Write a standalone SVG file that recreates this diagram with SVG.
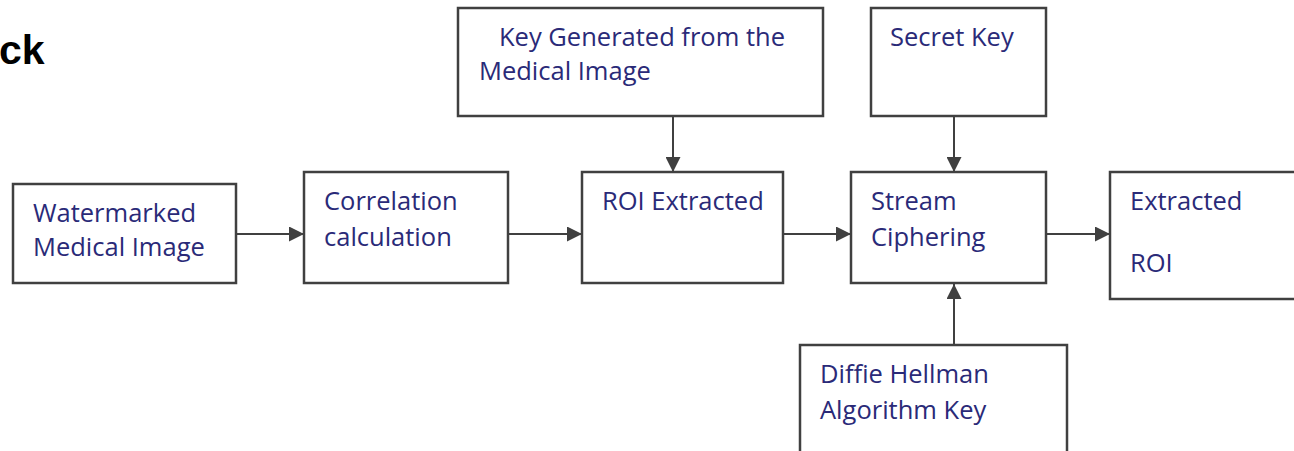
<svg xmlns="http://www.w3.org/2000/svg" width="1294" height="451" viewBox="0 0 1294 451">
<style>
.box{fill:#fff;stroke:#404040;stroke-width:2.5}
.t{font-family:"Open Sans","Noto Sans",sans-serif;font-size:25.5px;fill:#2a2a78}
.c{stroke:#404040;stroke-width:2;fill:none;marker-end:url(#ah)}
.title{font-family:"Liberation Sans",Arial,sans-serif;font-weight:bold;font-size:41px;fill:#000}
</style>
<defs>
<marker id="ah" viewBox="0 0 10 10" refX="10" refY="5" markerUnits="userSpaceOnUse" markerWidth="15" markerHeight="15" orient="auto">
<path d="M0,0 L10,5 L0,10 z" fill="#404040"/>
</marker>
</defs>
<rect width="1294" height="451" fill="#fff"/>
<text class="title" x="-1" y="64">ck</text>
<g id="connectors">
<line class="c" x1="237" y1="234" x2="304" y2="234"/>
<line class="c" x1="509" y1="234" x2="582" y2="234"/>
<line class="c" x1="784" y1="234" x2="851" y2="234"/>
<line class="c" x1="1047" y1="234" x2="1110" y2="234"/>
<line class="c" x1="673" y1="117" x2="673" y2="172"/>
<line class="c" x1="954" y1="117" x2="954" y2="172"/>
<line class="c" x1="954" y1="345" x2="954" y2="284"/>
</g>
<g id="watermarked">
<rect class="box" x="13" y="184" width="223" height="99"/>
<text class="t" x="33" y="222">Watermarked</text>
<text class="t" x="33" y="256">Medical Image</text>
</g>
<g id="correlation">
<rect class="box" x="304" y="172" width="204" height="111"/>
<text class="t" x="324" y="210">Correlation</text>
<text class="t" x="324" y="246">calculation</text>
</g>
<g id="roi-extracted">
<rect class="box" x="582" y="172" width="201" height="111"/>
<text class="t" x="602" y="210">ROI Extracted</text>
</g>
<g id="key-generated">
<rect class="box" x="458" y="8" width="365" height="108"/>
<text class="t" x="499" y="46">Key Generated from the</text>
<text class="t" x="479" y="80">Medical Image</text>
</g>
<g id="secret-key">
<rect class="box" x="871" y="8" width="175" height="108"/>
<text class="t" x="890" y="46">Secret Key</text>
</g>
<g id="stream-ciphering">
<rect class="box" x="851" y="172" width="195" height="111"/>
<text class="t" x="871" y="210">Stream</text>
<text class="t" x="871" y="246">Ciphering</text>
</g>
<g id="extracted-roi">
<rect class="box" x="1110" y="172" width="190" height="127"/>
<text class="t" x="1130" y="210">Extracted</text>
<text class="t" x="1130" y="272">ROI</text>
</g>
<g id="diffie-hellman">
<rect class="box" x="800" y="345" width="267" height="115"/>
<text class="t" x="820" y="383">Diffie Hellman</text>
<text class="t" x="820" y="419">Algorithm Key</text>
</g>
</svg>
